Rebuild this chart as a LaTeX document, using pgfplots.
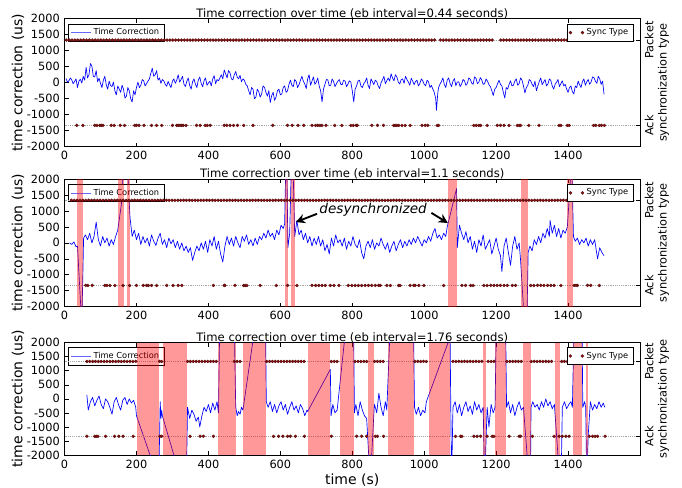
\documentclass[border=0pt]{standalone}
\usepackage{fontspec}
\setmainfont{DejaVu Sans}
\usepackage{pgfplots}
\usepackage{pgfplotstable}
\pgfplotsset{compat=1.18}
\usetikzlibrary{arrows.meta}

\definecolor{syncred}{RGB}{140,15,15}
\newcommand{\ticksz}{\fontsize{8.5}{10}\selectfont}

\pgfplotsset{
  tcax/.style={
    scale only axis, width=431.6pt,
    xmin=0, xmax=1600, ymin=-2000, ymax=2000,
    xtick={0,200,...,1400}, ytick={-2000,-1500,...,2000},
    ytick pos=left, tick align=inside, major tick length=3pt,
    axis line style={line width=0.6pt},
    tick style={black, line width=0.5pt},
    ticklabel style={font=\ticksz},
    /pgf/number format/1000 sep={},
    /pgf/number format/assume math mode=true,
    every axis title shift=0pt,
    title style={font=\fontsize{8.7}{10}\selectfont, yshift=-3.5pt},
    ylabel={time correction (us)},
    y label style={at={(axis description cs:-0.081,0.5)}, anchor=center, font=\fontsize{10.5}{12}\selectfont},
    legend style={at={(0.006,0.962)}, anchor=north west, font=\fontsize{6.2}{7}\selectfont,
      draw=black, line width=0.4pt, inner sep=1.5pt},
    legend image code/.code={\draw[#1, blue!60] (0pt,0pt) -- (15pt,0pt);},
  },
  syax/.style={
    scale only axis, width=431.6pt,
    xmin=0, xmax=1600, ymin=-0.25, ymax=1.25,
    axis x line=none, axis y line*=right,
    ytick={0,1}, yticklabels={Ack,Packet},
    tick align=inside, major tick length=3pt,
    axis line style={line width=0.6pt},
    tick style={black, line width=0.5pt},
    ymajorgrids, major grid style={densely dotted, gray!70, line width=0.4pt},
    yticklabel style={font=\ticksz, rotate=90, anchor=north},
    ylabel={synchronization type},
    every axis y label/.style={at={(axis description cs:1.041,0.5)}, anchor=center, rotate=90, font=\ticksz},
    legend style={at={(0.988,0.962)}, anchor=north east, font=\fontsize{6.2}{7}\selectfont,
      draw=black, line width=0.4pt, inner sep=1.5pt},
    legend image code/.code={\path[only marks] plot coordinates {(2pt,0pt) (11pt,0pt)};},
  },
  tcline/.style={blue, line width=0.5pt, line join=round, mark=none},
  syncmk/.style={only marks, mark=*, mark size=1.15pt,
    mark options={fill=syncred, draw=black!50!syncred, line width=0.2pt}},
  band/.style={draw=none, fill=red, fill opacity=0.4, forget plot},
}

% ---------- eb interval = 0.44 s ----------
\pgfplotstableread[row sep=\\]{
t v\\
4 130\\ 8 20\\ 12 60\\ 16 150\\ 20 90\\ 24 -30\\ 28 40\\ 32 120\\ 36 -150\\ 40 50\\ 44 110\\ 48 -10\\
52 200\\ 56 80\\ 60 480\\ 64 150\\ 68 250\\ 72 600\\ 76 520\\ 80 200\\ 84 180\\ 88 380\\ 92 30\\ 96 140\\
100 -20\\ 104 -150\\ 108 80\\ 112 200\\ 116 -60\\ 120 -200\\ 124 50\\ 128 -90\\ 132 -120\\ 136 20\\
140 -250\\ 144 -380\\ 148 -100\\ 152 -200\\ 156 -300\\ 160 -80\\ 164 -200\\ 168 -480\\ 172 -420\\
176 -150\\ 180 -250\\ 184 -500\\ 188 -600\\ 192 -250\\ 196 -380\\ 200 -150\\ 204 20\\ 208 -150\\
212 -80\\ 216 100\\ 220 60\\ 224 -100\\ 228 -30\\ 232 50\\ 236 120\\ 240 300\\ 244 450\\ 248 200\\
252 250\\ 256 380\\ 260 80\\ 264 150\\ 268 -20\\ 272 100\\ 276 60\\ 280 -50\\ 284 -110\\ 288 40\\
292 -60\\ 296 -150\\ 300 50\\ 304 120\\ 308 -20\\ 312 80\\ 316 250\\ 320 20\\ 324 100\\ 328 200\\
332 -40\\ 336 -120\\ 340 40\\ 344 150\\ 348 -90\\ 352 -200\\ 356 30\\ 360 120\\ 364 -50\\ 368 -150\\
372 90\\ 376 180\\ 380 -20\\ 384 -120\\ 388 60\\ 392 150\\ 396 -80\\ 400 -10\\ 404 50\\ 408 -100\\
412 120\\ 416 220\\ 420 -30\\ 424 100\\ 428 60\\ 432 150\\ 436 250\\ 440 120\\ 444 400\\ 448 280\\
452 150\\ 456 380\\ 460 310\\ 464 120\\ 468 90\\ 472 250\\ 476 350\\ 480 180\\ 484 120\\ 488 230\\
492 30\\ 496 120\\ 500 80\\ 504 -50\\ 508 -100\\ 512 -250\\ 516 -380\\ 520 -150\\ 524 -200\\ 528 -500\\
532 -450\\ 536 -200\\ 540 -280\\ 544 -450\\ 548 -350\\ 552 -100\\ 556 -150\\ 560 -300\\ 564 -420\\
568 -250\\ 572 -620\\ 576 -400\\ 580 -300\\ 584 -550\\ 588 -450\\ 592 -250\\ 596 -200\\ 600 -380\\
604 -350\\ 608 -150\\ 612 -100\\ 616 -300\\ 620 -250\\ 624 -50\\ 628 80\\ 632 -80\\ 636 -120\\ 640 100\\
644 40\\ 648 -150\\ 652 -60\\ 656 80\\ 660 200\\ 664 50\\ 668 -40\\ 672 -180\\ 676 120\\ 680 250\\
684 -80\\ 688 50\\ 692 180\\ 696 -50\\ 700 20\\ 704 150\\ 708 -100\\ 712 -250\\ 716 -600\\ 720 -200\\
724 -50\\ 728 100\\ 732 90\\ 736 -100\\ 740 -80\\ 744 120\\ 748 40\\ 752 -120\\ 756 -30\\ 760 50\\
764 100\\ 768 -50\\ 772 -60\\ 776 80\\ 780 50\\ 784 -120\\ 788 -40\\ 792 60\\ 796 20\\ 800 -250\\
804 -600\\ 808 -200\\ 812 -100\\ 816 50\\ 820 80\\ 824 -100\\ 828 -150\\ 832 -30\\ 836 30\\ 840 150\\
844 -80\\ 848 -180\\ 852 120\\ 856 30\\ 860 -60\\ 864 80\\ 868 40\\ 872 -100\\ 876 -180\\ 880 0\\
884 90\\ 888 200\\ 892 -30\\ 896 60\\ 900 150\\ 904 50\\ 908 280\\ 912 150\\ 916 60\\ 920 250\\
924 180\\ 928 20\\ 932 -40\\ 936 100\\ 940 120\\ 944 -20\\ 948 200\\ 952 100\\ 956 20\\ 960 -80\\
964 140\\ 968 50\\ 972 -60\\ 976 40\\ 980 80\\ 984 -100\\ 988 -20\\ 992 120\\ 996 60\\ 1000 -50\\
1004 -100\\ 1008 80\\ 1012 30\\ 1016 -150\\ 1020 -80\\ 1024 -200\\ 1028 -300\\ 1032 -500\\ 1034 -860\\
1038 -300\\ 1040 -150\\ 1044 -40\\ 1048 40\\ 1052 150\\ 1056 -60\\ 1060 -150\\ 1064 80\\ 1068 150\\
1072 -20\\ 1076 -120\\ 1080 50\\ 1084 130\\ 1088 -90\\ 1092 20\\ 1096 30\\ 1100 -120\\ 1104 -40\\
1108 100\\ 1112 60\\ 1116 -80\\ 1120 -20\\ 1124 150\\ 1128 110\\ 1132 -10\\ 1136 -50\\ 1140 180\\
1144 140\\ 1148 -30\\ 1152 20\\ 1156 160\\ 1160 90\\ 1164 -50\\ 1168 -30\\ 1172 120\\ 1176 50\\
1180 -60\\ 1184 -120\\ 1188 -250\\ 1192 -400\\ 1196 -200\\ 1200 -150\\ 1204 -30\\ 1208 80\\ 1212 -50\\
1216 -100\\ 1220 -300\\ 1224 -480\\ 1228 -150\\ 1232 -200\\ 1236 -50\\ 1240 60\\ 1244 -100\\ 1248 -80\\
1252 50\\ 1256 120\\ 1260 -80\\ 1264 -20\\ 1268 150\\ 1272 80\\ 1276 -100\\ 1280 -320\\ 1284 -150\\
1288 -80\\ 1292 100\\ 1296 60\\ 1300 -50\\ 1304 -120\\ 1308 50\\ 1312 -250\\ 1316 -100\\ 1320 40\\
1324 150\\ 1328 -60\\ 1332 20\\ 1336 100\\ 1340 -100\\ 1344 -40\\ 1348 120\\ 1352 70\\ 1356 -100\\
1360 -200\\ 1364 -50\\ 1368 20\\ 1372 100\\ 1376 -120\\ 1380 -30\\ 1384 60\\ 1388 -100\\ 1392 -50\\
1396 -200\\ 1400 -300\\ 1404 -150\\ 1408 -100\\ 1412 -280\\ 1416 -350\\ 1420 -100\\ 1424 -150\\
1428 50\\ 1432 -60\\ 1436 -150\\ 1440 40\\ 1444 120\\ 1448 -80\\ 1452 30\\ 1456 100\\ 1460 -50\\
1464 20\\ 1468 180\\ 1472 160\\ 1476 50\\ 1480 -20\\ 1484 200\\ 1488 120\\ 1492 -50\\ 1496 50\\ 1500 -360\\
}\tcA

% s: 1 = Packet, 0 = Ack
\pgfplotstableread[row sep=\\]{
t s\\
5 1\\ 13 1\\ 21 1\\ 29 1\\ 37 1\\ 45 1\\ 53 1\\ 61 1\\ 69 1\\ 77 1\\ 85 1\\ 93 1\\ 101 1\\ 109 1\\ 117 1\\ 125 1\\
133 1\\ 141 1\\ 149 1\\ 157 1\\ 165 1\\ 173 1\\ 181 1\\ 189 1\\ 197 1\\ 205 1\\ 213 1\\ 221 1\\ 229 1\\ 237 1\\
245 1\\ 253 1\\ 261 1\\ 269 1\\ 277 1\\ 285 1\\ 293 1\\ 301 1\\ 309 1\\ 317 1\\ 325 1\\ 333 1\\ 341 1\\ 349 1\\
357 1\\ 365 1\\ 373 1\\ 381 1\\ 389 1\\ 397 1\\ 405 1\\ 413 1\\ 421 1\\ 429 1\\ 437 1\\ 445 1\\ 453 1\\ 461 1\\
469 1\\ 477 1\\ 485 1\\ 493 1\\ 501 1\\ 509 1\\ 517 1\\ 525 1\\ 533 1\\ 541 1\\ 549 1\\ 557 1\\ 565 1\\ 573 1\\
581 1\\ 589 1\\ 597 1\\ 605 1\\ 613 1\\ 621 1\\ 629 1\\ 637 1\\ 645 1\\ 653 1\\ 661 1\\ 669 1\\ 677 1\\ 685 1\\
693 1\\ 701 1\\ 709 1\\ 717 1\\ 725 1\\ 733 1\\ 741 1\\ 749 1\\ 757 1\\ 765 1\\ 773 1\\ 781 1\\ 789 1\\ 797 1\\
805 1\\ 813 1\\ 821 1\\ 829 1\\ 837 1\\ 845 1\\ 853 1\\ 861 1\\ 869 1\\ 877 1\\ 885 1\\ 893 1\\ 901 1\\ 909 1\\
917 1\\ 925 1\\ 933 1\\ 941 1\\ 949 1\\ 957 1\\ 965 1\\ 973 1\\ 981 1\\ 989 1\\ 997 1\\ 1005 1\\ 1013 1\\ 1021 1\\
1029 1\\ 1045 1\\ 1053 1\\ 1061 1\\ 1069 1\\ 1077 1\\ 1085 1\\ 1093 1\\ 1101 1\\ 1109 1\\ 1117 1\\ 1125 1\\
1133 1\\ 1141 1\\ 1149 1\\ 1157 1\\ 1165 1\\ 1173 1\\ 1181 1\\ 1189 1\\ 1213 1\\ 1221 1\\ 1229 1\\ 1237 1\\
1245 1\\ 1253 1\\ 1261 1\\ 1269 1\\ 1277 1\\ 1285 1\\ 1293 1\\ 1301 1\\ 1309 1\\ 1317 1\\ 1325 1\\ 1333 1\\
1341 1\\ 1349 1\\ 1357 1\\ 1365 1\\ 1373 1\\ 1381 1\\ 1389 1\\ 1397 1\\ 1405 1\\ 1413 1\\ 1421 1\\ 1429 1\\
1437 1\\ 1445 1\\ 1453 1\\ 1461 1\\ 1469 1\\ 1477 1\\ 1485 1\\ 1493 1\\ 1501 1\\
34 0\\ 51 0\\ 84 0\\ 90 0\\ 98 0\\ 102 0\\ 107 0\\ 130 0\\ 138 0\\ 155 0\\ 167 0\\ 195 0\\ 200 0\\ 207 0\\
221 0\\ 242 0\\ 256 0\\ 270 0\\ 300 0\\ 312 0\\ 316 0\\ 321 0\\ 326 0\\ 330 0\\ 338 0\\ 367 0\\ 377 0\\ 391 0\\
397 0\\ 405 0\\ 444 0\\ 451 0\\ 460 0\\ 470 0\\ 481 0\\ 498 0\\ 524 0\\ 579 0\\ 620 0\\ 633 0\\ 649 0\\ 665 0\\
688 0\\ 698 0\\ 704 0\\ 710 0\\ 716 0\\ 727 0\\ 751 0\\ 771 0\\ 796 0\\ 803 0\\ 811 0\\ 814 0\\ 854 0\\ 870 0\\
887 0\\ 915 0\\ 919 0\\ 924 0\\ 929 0\\ 938 0\\ 947 0\\ 961 0\\ 994 0\\ 1003 0\\ 1010 0\\ 1036 0\\ 1040 0\\
1138 0\\ 1145 0\\ 1152 0\\ 1157 0\\ 1175 0\\ 1203 0\\ 1212 0\\ 1222 0\\ 1236 0\\ 1259 0\\ 1264 0\\ 1268 0\\
1291 0\\ 1319 0\\ 1375 0\\ 1380 0\\ 1398 0\\ 1403 0\\ 1471 0\\ 1477 0\\ 1487 0\\ 1493 0\\ 1501 0\\
}\syA

% ---------- eb interval = 1.1 s ----------
\pgfplotstableread[row sep=\\]{
t v\\
14 0\\ 20 -50\\ 26 30\\ 32 -120\\ 36 -100\\ 48 -2600\\ 53 150\\ 58 250\\ 64 100\\ 70 300\\ 76 0\\ 82 200\\
88 650\\ 94 100\\ 100 -100\\ 106 200\\ 112 0\\ 118 150\\ 124 -100\\ 130 100\\ 136 -50\\ 142 200\\ 148 400\\
158 1200\\ 170 3500\\ 182 800\\ 188 200\\ 194 400\\ 200 100\\ 206 300\\ 212 -50\\ 218 200\\ 224 0\\ 230 150\\
236 -100\\ 242 250\\ 248 50\\ 254 -80\\ 260 150\\ 266 300\\ 272 -50\\ 278 100\\ 284 -150\\ 290 150\\ 296 -30\\
302 100\\ 308 -150\\ 314 50\\ 320 -200\\ 326 0\\ 332 -250\\ 338 -100\\ 344 -300\\ 350 -150\\ 356 -550\\
362 -300\\ 368 -100\\ 374 -250\\ 380 0\\ 386 -200\\ 392 50\\ 398 -300\\ 404 100\\ 410 -100\\ 416 200\\
422 -200\\ 428 50\\ 434 -350\\ 440 -600\\ 446 -100\\ 452 200\\ 458 -50\\ 464 150\\ 470 -100\\ 476 200\\
482 0\\ 488 -150\\ 494 200\\ 500 50\\ 506 250\\ 512 -50\\ 518 100\\ 524 -100\\ 530 150\\ 536 -50\\ 542 200\\
548 100\\ 554 300\\ 560 150\\ 566 400\\ 572 200\\ 578 300\\ 584 100\\ 590 400\\ 596 250\\ 602 550\\ 608 450\\
612 600\\ 617 3500\\ 621 -150\\ 626 300\\ 633 3500\\ 640 200\\ 646 700\\ 652 250\\ 658 400\\ 664 100\\
670 300\\ 676 0\\ 682 200\\ 688 -100\\ 694 150\\ 700 -50\\ 706 200\\ 712 -100\\ 718 100\\ 724 -250\\ 730 -50\\
736 -350\\ 742 150\\ 748 -100\\ 754 250\\ 760 0\\ 766 100\\ 772 -100\\ 778 150\\ 784 -200\\ 790 50\\ 796 -100\\
802 200\\ 808 -50\\ 814 -150\\ 820 100\\ 826 -300\\ 832 -500\\ 838 -100\\ 844 50\\ 850 -150\\ 856 100\\
862 -200\\ 868 0\\ 874 -100\\ 880 150\\ 886 -50\\ 892 -200\\ 898 0\\ 904 -300\\ 910 -100\\ 916 50\\ 922 -250\\
928 -50\\ 934 100\\ 940 -150\\ 946 50\\ 952 -100\\ 958 100\\ 964 -50\\ 970 150\\ 976 0\\ 982 200\\ 988 50\\
994 -100\\ 1000 100\\ 1006 0\\ 1012 200\\ 1018 50\\ 1024 300\\ 1030 450\\ 1036 150\\ 1042 250\\ 1048 100\\
1054 300\\ 1060 200\\ 1064 500\\ 1090 1700\\ 1092 -150\\ 1098 550\\ 1104 300\\ 1110 100\\ 1116 350\\ 1122 0\\
1128 200\\ 1134 -200\\ 1140 50\\ 1146 -300\\ 1152 100\\ 1158 -100\\ 1164 250\\ 1170 -200\\ 1176 -50\\ 1182 100\\
1188 -350\\ 1194 -100\\ 1200 150\\ 1206 -200\\ 1212 -400\\ 1216 -900\\ 1222 -100\\ 1228 150\\ 1234 -300\\
1240 -700\\ 1246 -100\\ 1252 200\\ 1258 -200\\ 1264 0\\ 1268 -550\\ 1284 -3500\\ 1289 -300\\ 1294 -100\\
1300 -250\\ 1306 100\\ 1312 -50\\ 1318 200\\ 1324 0\\ 1330 300\\ 1336 150\\ 1342 450\\ 1348 200\\ 1350 700\\
1356 300\\ 1362 550\\ 1368 200\\ 1374 450\\ 1380 150\\ 1386 400\\ 1392 300\\ 1398 500\\ 1410 2600\\ 1415 200\\
1420 50\\ 1426 150\\ 1432 -50\\ 1438 100\\ 1444 0\\ 1450 150\\ 1456 -100\\ 1462 100\\ 1468 -50\\ 1474 100\\
1482 -500\\ 1488 -150\\ 1494 -300\\ 1500 -400\\
}\tcB

\pgfplotstableread[row sep=\\]{
t s\\
19 1\\ 27 1\\ 35 1\\ 43 1\\ 51 1\\ 59 1\\ 67 1\\ 75 1\\ 83 1\\ 91 1\\ 99 1\\ 107 1\\ 115 1\\ 123 1\\ 131 1\\
139 1\\ 147 1\\ 155 1\\ 163 1\\ 171 1\\ 179 1\\ 187 1\\ 195 1\\ 203 1\\ 211 1\\ 219 1\\ 227 1\\ 235 1\\ 243 1\\
251 1\\ 259 1\\ 267 1\\ 275 1\\ 283 1\\ 291 1\\ 299 1\\ 307 1\\ 315 1\\ 323 1\\ 331 1\\ 339 1\\ 347 1\\ 355 1\\
363 1\\ 371 1\\ 379 1\\ 387 1\\ 395 1\\ 403 1\\ 411 1\\ 419 1\\ 427 1\\ 435 1\\ 443 1\\ 451 1\\ 459 1\\ 467 1\\
475 1\\ 483 1\\ 491 1\\ 499 1\\ 507 1\\ 515 1\\ 523 1\\ 531 1\\ 539 1\\ 547 1\\ 555 1\\ 563 1\\ 571 1\\ 579 1\\
587 1\\ 595 1\\ 603 1\\ 611 1\\ 619 1\\ 627 1\\ 635 1\\ 643 1\\ 651 1\\ 659 1\\ 667 1\\ 675 1\\ 683 1\\ 691 1\\
699 1\\ 707 1\\ 715 1\\ 723 1\\ 731 1\\ 739 1\\ 747 1\\ 755 1\\ 763 1\\ 771 1\\ 779 1\\ 787 1\\ 795 1\\ 803 1\\
811 1\\ 819 1\\ 827 1\\ 835 1\\ 843 1\\ 851 1\\ 859 1\\ 867 1\\ 875 1\\ 883 1\\ 891 1\\ 899 1\\ 907 1\\ 915 1\\
923 1\\ 931 1\\ 939 1\\ 947 1\\ 955 1\\ 963 1\\ 971 1\\ 979 1\\ 987 1\\ 995 1\\ 1003 1\\ 1011 1\\ 1019 1\\
1027 1\\ 1035 1\\ 1043 1\\ 1051 1\\ 1059 1\\ 1067 1\\ 1075 1\\ 1083 1\\ 1091 1\\ 1099 1\\ 1107 1\\ 1115 1\\
1123 1\\ 1131 1\\ 1139 1\\ 1147 1\\ 1155 1\\ 1163 1\\ 1171 1\\ 1179 1\\ 1187 1\\ 1195 1\\ 1203 1\\ 1211 1\\
1219 1\\ 1227 1\\ 1235 1\\ 1243 1\\ 1251 1\\ 1259 1\\ 1267 1\\ 1275 1\\ 1283 1\\ 1291 1\\ 1299 1\\ 1307 1\\
1315 1\\ 1323 1\\ 1331 1\\ 1339 1\\ 1347 1\\ 1355 1\\ 1363 1\\ 1371 1\\ 1379 1\\ 1387 1\\ 1395 1\\ 1403 1\\
1411 1\\ 1419 1\\ 1427 1\\ 1435 1\\ 1443 1\\ 1451 1\\ 1459 1\\ 1467 1\\ 1475 1\\ 1483 1\\ 1491 1\\ 1499 1\\
59 0\\ 65 0\\ 77 0\\ 112 0\\ 118 0\\ 126 0\\ 140 0\\ 163 0\\ 181 0\\ 200 0\\ 219 0\\ 228 0\\ 233 0\\ 242 0\\
256 0\\ 284 0\\ 302 0\\ 316 0\\ 326 0\\ 414 0\\ 444 0\\ 446 0\\ 474 0\\ 498 0\\ 502 0\\ 507 0\\ 544 0\\ 589 0\\
620 0\\ 646 0\\ 688 0\\ 698 0\\ 707 0\\ 716 0\\ 725 0\\ 739 0\\ 749 0\\ 763 0\\ 789 0\\ 799 0\\ 808 0\\ 817 0\\
826 0\\ 836 0\\ 845 0\\ 854 0\\ 864 0\\ 873 0\\ 878 0\\ 896 0\\ 906 0\\ 929 0\\ 933 0\\ 961 0\\ 971 0\\ 975 0\\
985 0\\ 999 0\\ 1054 0\\ 1105 0\\ 1115 0\\ 1129 0\\ 1136 0\\ 1166 0\\ 1175 0\\ 1185 0\\ 1194 0\\ 1203 0\\
1212 0\\ 1222 0\\ 1231 0\\ 1245 0\\ 1254 0\\ 1296 0\\ 1305 0\\ 1315 0\\ 1324 0\\ 1333 0\\ 1343 0\\ 1352 0\\
1361 0\\ 1380 0\\ 1417 0\\ 1422 0\\ 1426 0\\ 1454 0\\ 1463 0\\ 1487 0\\
}\syB

% ---------- eb interval = 1.76 s ----------
\pgfplotstableread[row sep=\\]{
t v\\
62 150\\ 66 -400\\ 72 -100\\ 78 50\\ 84 -250\\ 90 -50\\ 96 100\\ 102 -200\\ 108 -350\\ 114 0\\ 120 -100\\
126 -300\\ 132 -550\\ 138 -100\\ 144 50\\ 150 -200\\ 156 -400\\ 162 -50\\ 168 50\\ 174 -200\\ 180 0\\
186 -150\\ 192 -50\\ 198 -300\\ 200 -600\\ 262 -2900\\ 266 -100\\ 268 -700\\ 270 -400\\ 272 -600\\
338 -3500\\ 342 -300\\ 348 -700\\ 354 -400\\ 360 -550\\ 366 -800\\ 372 -650\\ 376 -1000\\ 382 -600\\
388 -300\\ 394 -450\\ 400 -200\\ 406 -500\\ 412 -150\\ 418 -400\\ 424 -100\\ 428 -500\\ 433 4000\\
470 4000\\ 476 -300\\ 480 -600\\ 484 -450\\ 488 -550\\ 492 -300\\ 496 -400\\ 540 3500\\ 558 3500\\
561 -100\\ 566 -300\\ 572 -100\\ 578 -450\\ 584 -200\\ 590 -500\\ 596 -250\\ 602 -100\\ 608 -400\\
614 -200\\ 620 -550\\ 626 -300\\ 632 -100\\ 638 -400\\ 644 -250\\ 650 -500\\ 656 -200\\ 662 -350\\
668 -600\\ 674 -400\\ 676 -450\\ 739 1050\\ 741 -600\\ 746 -200\\ 752 -500\\ 758 -400\\ 790 3500\\
803 3500\\ 806 -500\\ 810 -200\\ 816 -600\\ 822 -100\\ 828 -400\\ 834 -600\\ 840 -700\\ 850 -3000\\
861 -300\\ 862 -200\\ 868 -500\\ 874 200\\ 880 -300\\ 886 -600\\ 892 -100\\ 896 -400\\ 910 4000\\
969 4000\\ 973 -300\\ 978 -550\\ 984 -300\\ 990 -600\\ 996 -400\\ 1002 -500\\ 1006 -100\\ 1072 2200\\
1076 -3000\\ 1080 -300\\ 1086 -100\\ 1092 -500\\ 1098 -200\\ 1104 -600\\ 1110 -300\\ 1116 -100\\
1122 -450\\ 1128 -250\\ 1134 -550\\ 1140 -100\\ 1146 -400\\ 1152 -200\\ 1158 -500\\ 1164 -300\\
1168 -3000\\ 1175 -300\\ 1180 -1000\\ 1186 -200\\ 1192 -500\\ 1197 -300\\ 1201 3000\\ 1226 3000\\
1229 -300\\ 1234 -100\\ 1240 -500\\ 1246 -200\\ 1252 -600\\ 1258 -300\\ 1264 -100\\ 1270 -400\\
1276 -300\\ 1295 -3500\\ 1297 -300\\ 1302 -100\\ 1308 -300\\ 1314 -200\\ 1320 -400\\ 1326 -100\\
1332 -300\\ 1338 0\\ 1344 -250\\ 1350 -100\\ 1356 -350\\ 1362 -200\\ 1380 -3500\\ 1384 -300\\
1390 -100\\ 1396 -350\\ 1402 -200\\ 1408 -100\\ 1412 -300\\ 1418 3500\\ 1438 3500\\ 1441 -300\\
1446 -100\\ 1449 -300\\ 1452 -3000\\ 1456 -1300\\ 1462 -100\\ 1468 -400\\ 1474 -200\\ 1480 -350\\
1486 -100\\ 1492 -300\\ 1498 -150\\ 1502 -300\\
}\tcC

\pgfplotstableread[row sep=\\]{
t s\\
62 1\\ 70 1\\ 78 1\\ 86 1\\ 94 1\\ 102 1\\ 110 1\\ 118 1\\ 126 1\\ 134 1\\ 142 1\\ 150 1\\ 158 1\\ 166 1\\
174 1\\ 182 1\\ 190 1\\ 198 1\\ 264 1\\ 270 1\\ 342 1\\ 350 1\\ 358 1\\ 366 1\\ 374 1\\ 382 1\\ 390 1\\
398 1\\ 406 1\\ 414 1\\ 422 1\\ 472 1\\ 480 1\\ 488 1\\ 562 1\\ 570 1\\ 578 1\\ 586 1\\ 594 1\\ 602 1\\
610 1\\ 618 1\\ 626 1\\ 634 1\\ 642 1\\ 650 1\\ 658 1\\ 666 1\\ 742 1\\ 750 1\\ 758 1\\ 808 1\\ 816 1\\
824 1\\ 832 1\\ 840 1\\ 862 1\\ 870 1\\ 878 1\\ 886 1\\ 974 1\\ 982 1\\ 990 1\\ 998 1\\ 1006 1\\ 1080 1\\
1088 1\\ 1096 1\\ 1104 1\\ 1112 1\\ 1120 1\\ 1128 1\\ 1136 1\\ 1144 1\\ 1152 1\\ 1160 1\\ 1178 1\\
1186 1\\ 1194 1\\ 1230 1\\ 1238 1\\ 1246 1\\ 1254 1\\ 1262 1\\ 1270 1\\ 1298 1\\ 1306 1\\ 1314 1\\
1322 1\\ 1330 1\\ 1338 1\\ 1346 1\\ 1354 1\\ 1382 1\\ 1390 1\\ 1398 1\\ 1406 1\\ 1460 1\\ 1468 1\\
1476 1\\ 1484 1\\ 1492 1\\ 1500 1\\
62 0\\ 84 0\\ 88 0\\ 93 0\\ 114 0\\ 139 0\\ 151 0\\ 163 0\\ 191 0\\ 265 0\\ 270 0\\ 349 0\\ 377 0\\
386 0\\ 414 0\\ 581 0\\ 595 0\\ 607 0\\ 620 0\\ 628 0\\ 642 0\\ 667 0\\ 742 0\\ 812 0\\ 826 0\\ 840 0\\
864 0\\ 870 0\\ 887 0\\ 1087 0\\ 1101 0\\ 1105 0\\ 1138 0\\ 1147 0\\ 1157 0\\ 1175 0\\ 1189 0\\
1194 0\\ 1236 0\\ 1264 0\\ 1268 0\\ 1301 0\\ 1361 0\\ 1375 0\\ 1384 0\\ 1394 0\\ 1403 0\\ 1459 0\\
1468 0\\ 1475 0\\ 1482 0\\ 1503 0\\
}\syC

\begin{document}
\begin{tikzpicture}
\useasboundingbox (0,0) rectangle (511.5pt,365.25pt);

% ===== top panel =====
\begin{axis}[tcax, at={(48.4pt,255.2pt)}, anchor=south west, height=96pt,
  title={Time correction over time (eb interval=0.44 seconds)}]
  \addplot[tcline] table[x=t, y=v] {\tcA};
  \addlegendentry{Time Correction}
\end{axis}
\begin{axis}[syax, at={(48.4pt,255.2pt)}, anchor=south west, height=96pt]
  \addplot[syncmk] table[x=t, y=s] {\syA};
  \addlegendentry{Sync Type}
\end{axis}

% ===== middle panel =====
\begin{axis}[tcax, at={(48.4pt,135.2pt)}, anchor=south west, height=95.8pt,
  title={Time correction over time (eb interval=1.1 seconds)}]
  \addplot[tcline] table[x=t, y=v] {\tcB};
  \addlegendentry{Time Correction}
  \node[font=\fontsize{10.2}{12}\selectfont\itshape] at (axis cs:858,1030) {desynchronized};
  \draw[-{Stealth[length=7pt,width=7pt]}, line width=1.4pt] (axis cs:702,910) -- (axis cs:643,650);
  \draw[-{Stealth[length=7pt,width=7pt]}, line width=1.4pt] (axis cs:1020,940) -- (axis cs:1066,620);
\end{axis}
\begin{axis}[syax, at={(48.4pt,135.2pt)}, anchor=south west, height=95.8pt]
  \addplot[band] coordinates {(34,-0.25) (34,1.25) (51,1.25) (51,-0.25)} -- cycle;
  \addplot[band] coordinates {(149,-0.25) (149,1.25) (165,1.25) (165,-0.25)} -- cycle;
  \addplot[band] coordinates {(174,-0.25) (174,1.25) (181,1.25) (181,-0.25)} -- cycle;
  \addplot[band] coordinates {(614,-0.25) (614,1.25) (622,1.25) (622,-0.25)} -- cycle;
  \addplot[band] coordinates {(631,-0.25) (631,1.25) (641,1.25) (641,-0.25)} -- cycle;
  \addplot[band] coordinates {(1066,-0.25) (1066,1.25) (1090,1.25) (1090,-0.25)} -- cycle;
  \addplot[band] coordinates {(1268,-0.25) (1268,1.25) (1289,1.25) (1289,-0.25)} -- cycle;
  \addplot[band] coordinates {(1397,-0.25) (1397,1.25) (1414,1.25) (1414,-0.25)} -- cycle;
  \addplot[syncmk] table[x=t, y=s] {\syB};
  \addlegendentry{Sync Type}
\end{axis}

% ===== bottom panel =====
\begin{axis}[tcax, at={(48.4pt,24pt)}, anchor=south west, height=84.2pt,
  title={Time correction over time (eb interval=1.76 seconds)},
  xlabel={time (s)}, x label style={font=\fontsize{10.5}{12}\selectfont, yshift=2.5pt}]
  \addplot[tcline] table[x=t, y=v] {\tcC};
  \addlegendentry{Time Correction}
\end{axis}
\begin{axis}[syax, at={(48.4pt,24pt)}, anchor=south west, height=84.2pt]
  \addplot[band] coordinates {(202,-0.25) (202,1.25) (262,1.25) (262,-0.25)} -- cycle;
  \addplot[band] coordinates {(274,-0.25) (274,1.25) (341,1.25) (341,-0.25)} -- cycle;
  \addplot[band] coordinates {(428,-0.25) (428,1.25) (476,1.25) (476,-0.25)} -- cycle;
  \addplot[band] coordinates {(496,-0.25) (496,1.25) (560,1.25) (560,-0.25)} -- cycle;
  \addplot[band] coordinates {(676,-0.25) (676,1.25) (739,1.25) (739,-0.25)} -- cycle;
  \addplot[band] coordinates {(766,-0.25) (766,1.25) (805,1.25) (805,-0.25)} -- cycle;
  \addplot[band] coordinates {(844,-0.25) (844,1.25) (861,1.25) (861,-0.25)} -- cycle;
  \addplot[band] coordinates {(899,-0.25) (899,1.25) (972,1.25) (972,-0.25)} -- cycle;
  \addplot[band] coordinates {(1012,-0.25) (1012,1.25) (1073,1.25) (1073,-0.25)} -- cycle;
  \addplot[band] coordinates {(1164,-0.25) (1164,1.25) (1173,1.25) (1173,-0.25)} -- cycle;
  \addplot[band] coordinates {(1198,-0.25) (1198,1.25) (1228,1.25) (1228,-0.25)} -- cycle;
  \addplot[band] coordinates {(1276,-0.25) (1276,1.25) (1296,1.25) (1296,-0.25)} -- cycle;
  \addplot[band] coordinates {(1363,-0.25) (1363,1.25) (1378,1.25) (1378,-0.25)} -- cycle;
  \addplot[band] coordinates {(1414,-0.25) (1414,1.25) (1440,1.25) (1440,-0.25)} -- cycle;
  \addplot[band] coordinates {(1449,-0.25) (1449,1.25) (1456,1.25) (1456,-0.25)} -- cycle;
  \addplot[syncmk] table[x=t, y=s] {\syC};
  \addlegendentry{Sync Type}
\end{axis}
\end{tikzpicture}
\end{document}
